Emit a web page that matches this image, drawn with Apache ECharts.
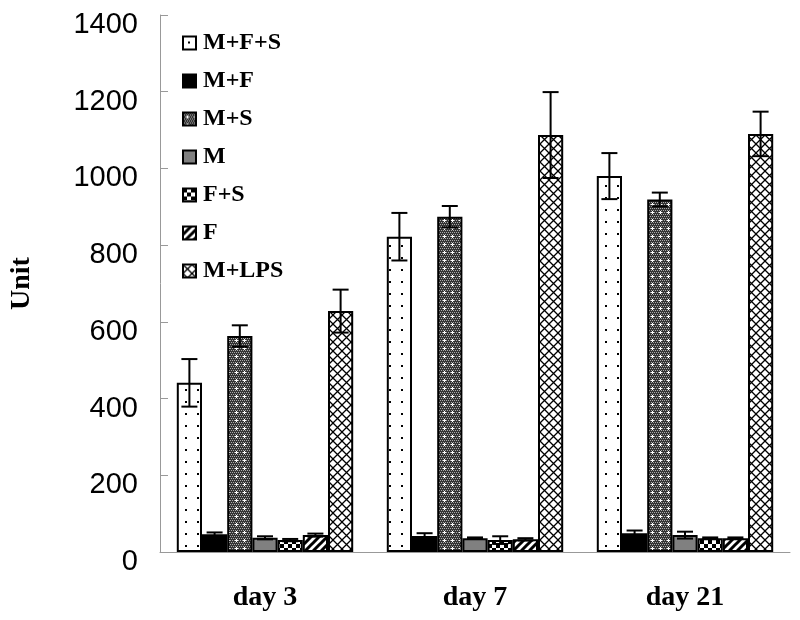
<!DOCTYPE html>
<html>
<head>
<meta charset="utf-8">
<script src="https://cdn.jsdelivr.net/npm/echarts@6/dist/echarts.min.js"></script>
<style>html,body{margin:0;padding:0;background:#fff;}#c{width:800px;height:620px;}</style>
</head>
<body>
<div id="c"></div>
<script>
var categories = ['day 3', 'day 7', 'day 21'];
var seriesNames = ['M+F+S', 'M+F', 'M+S', 'M', 'F+S', 'F', 'M+LPS'];
var valMFS  = [441, 822, 980];
var valMF   = [46, 42, 49];
var valMS   = [563, 874, 919];
var valM    = [37, 36, 44];
var valFS   = [31, 31, 36];
var valF    = [44, 33, 36];
var valMLPS = [628, 1087, 1090];
var errMFS  = [62, 62, 60];
var errMF   = [5, 7, 7];
var errMS   = [28, 28, 18];
var errM    = [4, 2, 9];
var errFS   = [3, 10, 2];
var errF    = [4, 3, 2];
var errMLPS = [56, 112, 58];
var yTicks = [0, 200, 400, 600, 800, 1000, 1200, 1400];

var values = [valMFS, valMF, valMS, valM, valFS, valF, valMLPS];
var errors = [errMFS, errMF, errMS, errM, errFS, errF, errMLPS];

function tile(w, h, draw) {
  var c = document.createElement('canvas');
  c.width = w; c.height = h;
  var ctx = c.getContext('2d');
  draw(ctx, w, h);
  return { image: c, repeat: 'repeat' };
}
var patDots = tile(12, 12, function (ctx) {
  ctx.fillStyle = '#fff'; ctx.fillRect(0, 0, 12, 12);
  ctx.fillStyle = '#000'; ctx.fillRect(5, 5, 2, 2);
});
var patMS = tile(8, 8, function (ctx) {
  ctx.fillStyle = '#333'; ctx.fillRect(0, 0, 8, 8);
  ctx.fillStyle = '#aaa';
  for (var y = 0; y < 8; y += 2) for (var x = (y % 4 === 0 ? 0 : 1); x < 8; x += 2) ctx.fillRect(x, y, 1, 1);
  ctx.fillStyle = '#fff';
  ctx.fillRect(3, 4, 3, 1); ctx.fillRect(4, 3, 1, 3);
});
var patFS = tile(8, 8, function (ctx) {
  ctx.fillStyle = '#fff'; ctx.fillRect(0, 0, 8, 8);
  ctx.fillStyle = '#000'; ctx.fillRect(0, 0, 4, 4); ctx.fillRect(4, 4, 4, 4);
});
var patF = tile(8, 8, function (ctx) {
  ctx.fillStyle = '#fff'; ctx.fillRect(0, 0, 8, 8);
  ctx.strokeStyle = '#000'; ctx.lineWidth = 3;
  ctx.beginPath();
  ctx.moveTo(-2, 10); ctx.lineTo(10, -2);
  ctx.moveTo(-2, 2); ctx.lineTo(2, -2);
  ctx.moveTo(6, 10); ctx.lineTo(10, 6);
  ctx.stroke();
});
var patX = tile(9, 9, function (ctx) {
  ctx.fillStyle = '#fff'; ctx.fillRect(0, 0, 9, 9);
  ctx.strokeStyle = '#000'; ctx.lineWidth = 1.3;
  ctx.beginPath();
  ctx.moveTo(0, 0); ctx.lineTo(9, 9);
  ctx.moveTo(9, 0); ctx.lineTo(0, 9);
  ctx.stroke();
});
var fills = [patDots, '#000000', patMS, '#808080', patFS, patF, patX];

var GAP = 0.16;
var series = seriesNames.map(function (n, i) {
  return {
    name: n,
    type: 'bar',
    data: values[i],
    barGap: '0%',
    barCategoryGap: (GAP * 100) + '%',
    itemStyle: { color: fills[i], borderColor: '#000', borderWidth: 2 },
    emphasis: { disabled: true },
    animation: false
  };
});

var errData = [];
for (var s = 0; s < seriesNames.length; s++) {
  for (var k = 0; k < categories.length; k++) {
    errData.push([k, s, values[s][k], errors[s][k]]);
  }
}
series.push({
  type: 'custom',
  z: 10,
  silent: true,
  animation: false,
  encode: { x: 0, y: 2 },
  data: errData,
  renderItem: function (params, api) {
    var cat = api.value(0), si = api.value(1), mean = api.value(2), err = api.value(3);
    var band = api.size([1, 0])[0];
    var total = band * (1 - GAP);
    var w = total / seriesNames.length;
    var c = api.coord([cat, mean]);
    var x = c[0] - total / 2 + w * (si + 0.5);
    var yt = api.coord([cat, mean + err])[1];
    var yb = api.coord([cat, mean - err])[1];
    var hw = 8;
    var st = { stroke: '#000', lineWidth: 2 };
    return {
      type: 'group',
      children: [
        { type: 'line', shape: { x1: x, y1: yt, x2: x, y2: yb }, style: st },
        { type: 'line', shape: { x1: x - hw, y1: yt, x2: x + hw, y2: yt }, style: st },
        { type: 'line', shape: { x1: x - hw, y1: yb, x2: x + hw, y2: yb }, style: st }
      ]
    };
  }
});

var chart = echarts.init(document.getElementById('c'), null, { renderer: 'canvas' });
chart.setOption({
  backgroundColor: '#ffffff',
  animation: false,
  grid: { left: 157, right: 10, top: 15, bottom: 68, containLabel: false },
  legend: {
    orient: 'vertical',
    left: 177,
    top: 26,
    icon: 'rect',
    itemWidth: 13,
    itemHeight: 13,
    itemGap: 14,
    data: seriesNames,
    textStyle: { fontFamily: 'Liberation Serif', fontWeight: 'bold', fontSize: 24, color: '#000', padding: [0, 0, 0, 2] },
    selectedMode: false
  },
  xAxis: {
    type: 'category',
    data: categories,
    axisLine: { lineStyle: { color: '#999', width: 1 } },
    axisTick: { inside: true, length: 6, lineStyle: { color: '#999' } },
    axisLabel: { margin: 32, fontFamily: 'Liberation Serif', fontWeight: 'bold', fontSize: 28, color: '#000' }
  },
  yAxis: {
    type: 'value',
    min: 0,
    max: 1400,
    interval: 200,
    name: 'Unit',
    nameLocation: 'middle',
    nameGap: 124,
    nameRotate: 90,
    nameTextStyle: { fontFamily: 'Liberation Serif', fontWeight: 'bold', fontSize: 28, color: '#000' },
    splitLine: { show: false },
    axisLine: { show: true, lineStyle: { color: '#999', width: 1 } },
    axisTick: { show: true, inside: true, length: 8, lineStyle: { color: '#999' } },
    axisLabel: {
      margin: 22,
      fontFamily: 'Liberation Sans',
      fontSize: 29,
      color: '#000',
      verticalAlign: 'top',
      lineHeight: 20,
      formatter: function (v) { return yTicks.indexOf(v) >= 0 ? String(v) : ''; }
    }
  },
  series: series
});
</script>
</body>
</html>
